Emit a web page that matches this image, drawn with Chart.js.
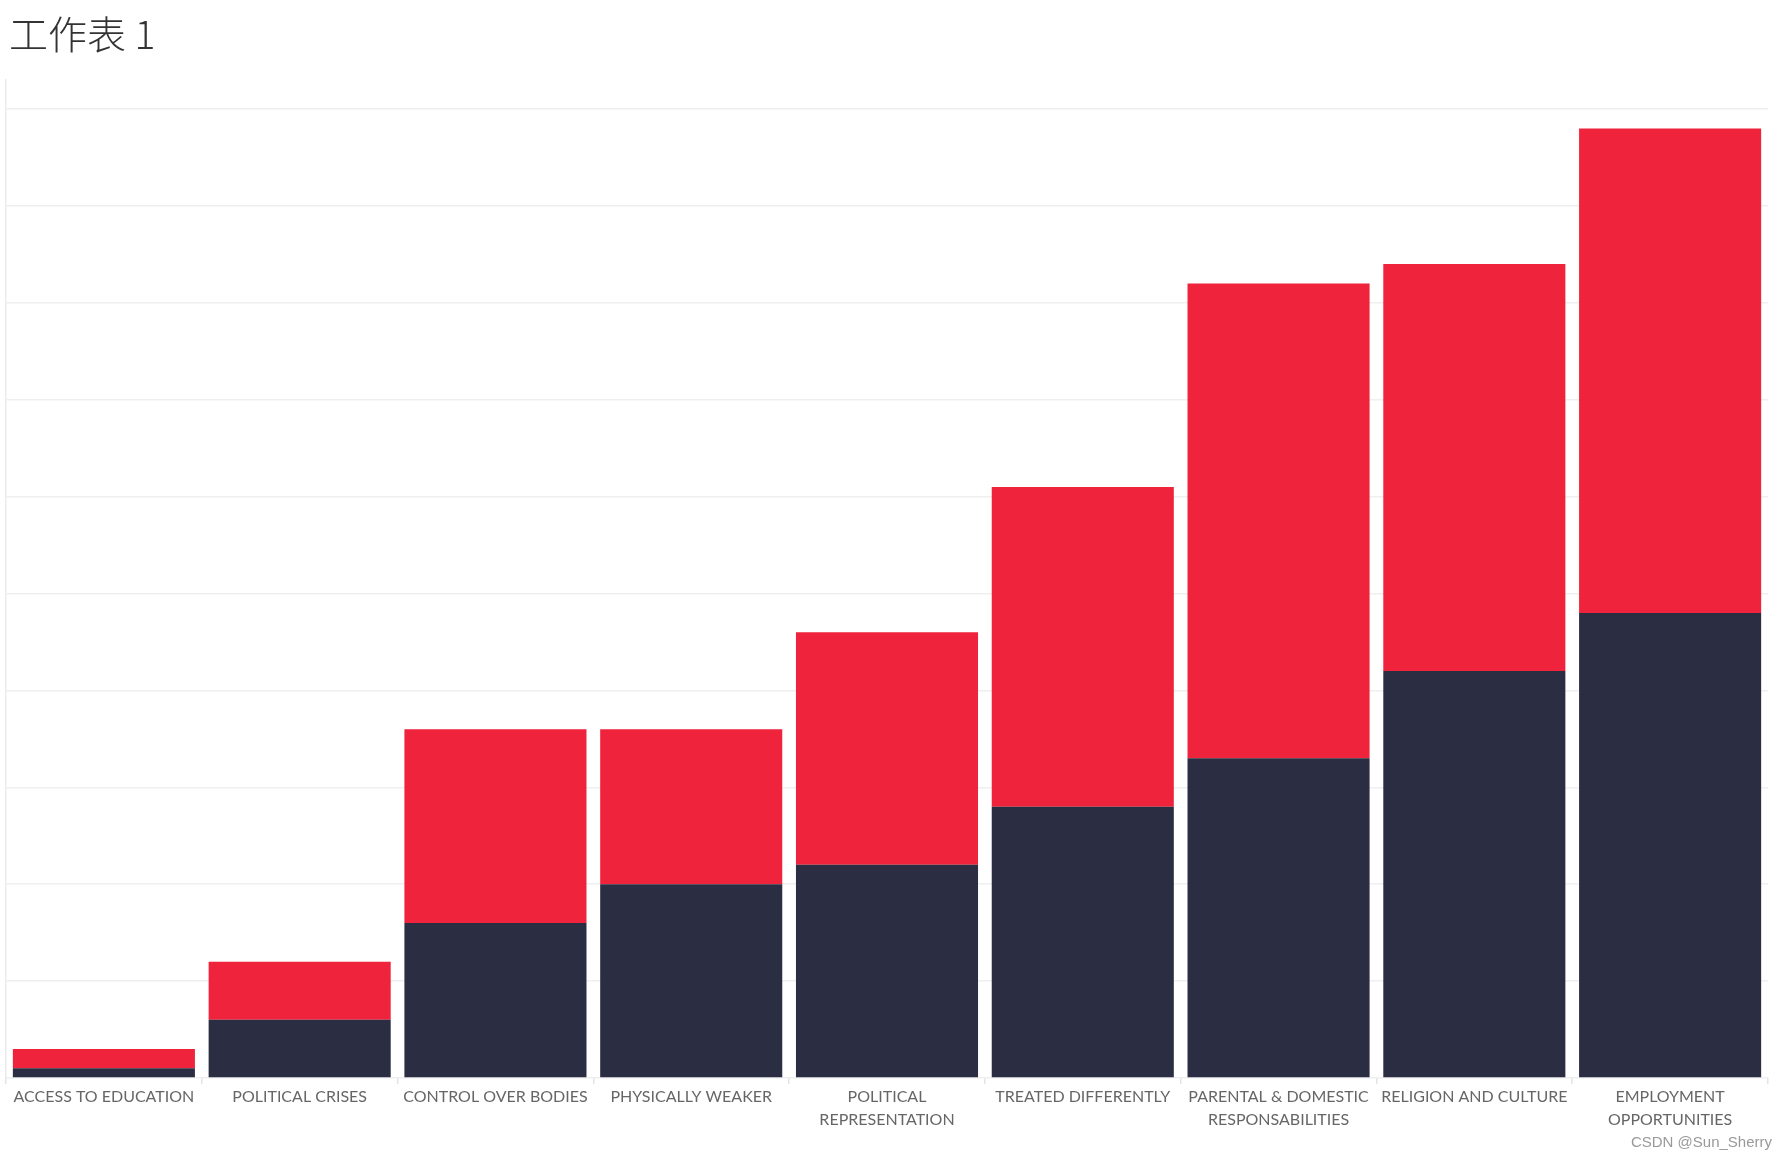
<!DOCTYPE html>
<html>
<head>
<meta charset="utf-8">
<script src="https://cdn.jsdelivr.net/npm/chart.js@4"></script>
<style>
  html, body { margin: 0; padding: 0; background: #fff; }
  #wrap { position: relative; width: 1780px; height: 1156px; }
  #titulo { position: absolute; left: 9px; top: 4px; font: 300 39px "Noto Sans CJK SC", "Noto Sans", sans-serif; color: #333; }
  #marca { position: absolute; right: 8px; bottom: 6px; font: 15px "Liberation Sans", Arial, sans-serif; color: #999; }
  #lienzo { position: absolute; left: 0; top: 0; }
</style>
</head>
<body>
<div id="wrap">
  <canvas id="lienzo" width="1780" height="1156"></canvas>
  <div id="titulo">工作表 1</div>
  <div id="marca">CSDN @Sun_Sherry</div>
</div>
<script>
'use strict';

const categorias = [
  'ACCESS TO EDUCATION',
  'POLITICAL CRISES',
  'CONTROL OVER BODIES',
  'PHYSICALLY WEAKER',
  ['POLITICAL', 'REPRESENTATION'],
  'TREATED DIFFERENTLY',
  ['PARENTAL & DOMESTIC', 'RESPONSABILITIES'],
  'RELIGION AND CULTURE',
  ['EMPLOYMENT', 'OPPORTUNITIES'],
];
const serieOscura = [1, 6, 16, 20, 22, 28, 33, 42, 48];
const serieRoja   = [2, 6, 20, 16, 24, 33, 49, 42, 50];

const fuente = '"Lato", "Roboto", sans-serif';

new Chart(document.getElementById('lienzo'), {
  type: 'bar',
  data: {
    labels: categorias,
    datasets: [
      { data: serieOscura, backgroundColor: '#2b2d42', barPercentage: 0.93, categoryPercentage: 1 },
      { data: serieRoja,   backgroundColor: '#ef233c', barPercentage: 0.93, categoryPercentage: 1 },
    ],
  },
  options: {
    responsive: false, animation: false,
    layout: { padding: { top: 80, left: 6, right: 12, bottom: 0 } },
    plugins: { legend: { display: false }, tooltip: { enabled: false } },
    scales: {
      x: {
        stacked: true,
        afterFit: s => { s.height = 78; },
        border: { display: false },
        grid: { offset: true, drawOnChartArea: false, tickLength: 6, color: '#e4e4e4', lineWidth: 1.5 },
        ticks: { autoSkip: false, maxRotation: 0, padding: 2, color: '#666', font: { family: fuente, size: 16, lineHeight: 1.4 } },
      },
      y: {
        stacked: true, min: 0, max: 103,
        afterFit: s => { s.width = 0; },
        afterBuildTicks: s => { s.ticks = s.ticks.filter(t => t.value % 10 === 0); },
        border: { display: true, color: '#ececec', width: 1.5 },
        grid: { color: '#efefef', lineWidth: 1.5, drawTicks: false },
        ticks: { display: false, stepSize: 10 },
      },
    },
  },
});
</script>
</body>
</html>
